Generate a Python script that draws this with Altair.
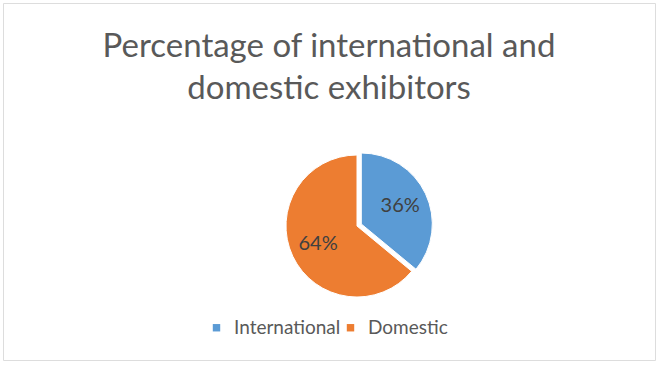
import altair as alt
import pandas as pd

categories = ["International", "Domestic"]
values = [36, 64]
colors = ["#5B9BD5", "#ED7D31"]
explode = [1, 0]

df = pd.DataFrame({"category": categories, "value": values, "order": [0, 1], "explode": explode})

FONT = "Lato"
CX, CY = 354, 223

base = alt.Chart(df).transform_calculate(
    label="datum.value + '%'",
    cx=f"{CX} + datum.explode * 4.3",
    cy=f"{CY} - datum.explode * 2.0",
).encode(
    theta=alt.Theta("value:Q", stack=True),
    order=alt.Order("order:Q"),
    x=alt.X("cx:Q", scale=None),
    y=alt.Y("cy:Q", scale=None),
)

arcs = base.mark_arc(outerRadius=71, stroke="white", strokeWidth=1).encode(
    color=alt.Color(
        "category:N",
        scale=alt.Scale(domain=categories, range=colors),
        sort=categories,
        legend=alt.Legend(
            title=None,
            orient="none",
            legendX=204,
            legendY=315,
            direction="horizontal",
            symbolType="square",
            symbolSize=55,
            symbolStrokeWidth=0,
            labelFont=FONT,
            labelFontSize=19,
            labelColor="#595959",
            labelOffset=8,
            columnPadding=0,
        ),
    )
)

labels = base.mark_text(radius=43, font=FONT, fontSize=20, color="#404040").encode(
    text="label:N"
)

chart = (
    alt.layer(arcs, labels)
    .properties(
        width=652,
        height=357,
        padding={"left": 3, "top": 3, "right": 5, "bottom": 7},
        autosize=alt.AutoSizeParams(type="none"),
        title=alt.TitleParams(
            text=["Percentage of international and", "domestic exhibitors"],
            font=FONT,
            fontSize=33,
            fontWeight="normal",
            color="#595959",
            anchor="middle",
            lineHeight=42,
            offset=-103,
        ),
    )
    .configure_view(stroke="#D9D9D9", strokeWidth=1.5)
    .configure(background="white")
)

chart.save("out.html", embed_options={"renderer": "svg", "actions": False})
